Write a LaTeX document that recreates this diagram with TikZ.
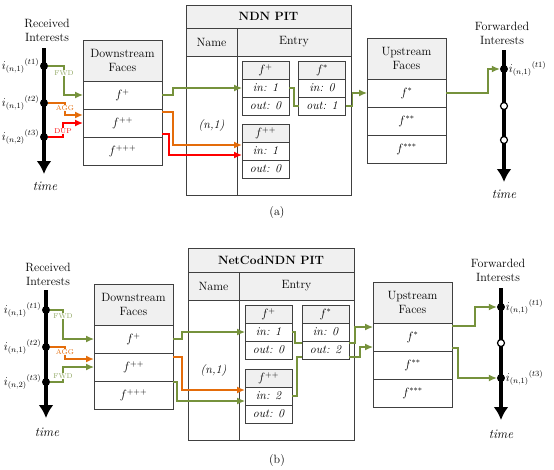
\documentclass[tikz,border=0pt]{standalone}
\usetikzlibrary{positioning,arrows.meta}
\definecolor{fwdgreen}{RGB}{118,146,60}
\definecolor{aggorange}{RGB}{228,108,10}
\definecolor{dupred}{RGB}{255,0,0}
\definecolor{hdrgray}{RGB}{240,240,240}
\definecolor{boxline}{RGB}{64,64,64}

\begin{document}
\begin{tikzpicture}[x=1pt,y=-1pt,font=\fontsize{12}{14}\selectfont,
  face/.style={draw=boxline,line width=1pt,inner sep=0pt,outer sep=0pt,minimum width=79pt,minimum height=28pt},
  hdr/.style={face,fill=hdrgray,minimum height=41pt,align=center},
  pitbox/.style={draw=boxline,line width=1pt,inner sep=0pt,outer sep=0pt},
  cell/.style={draw=boxline,line width=0.9pt,inner sep=0pt,outer sep=0pt,minimum width=47pt,minimum height=18pt,font=\fontsize{12}{13}\selectfont\itshape},
  chdr/.style={cell,fill=hdrgray},
  dot/.style={circle,fill,inner sep=0pt,minimum size=8pt},
  hdot/.style={circle,draw,fill=white,line width=1.2pt,inner sep=0pt,minimum size=7pt},
  ilbl/.style={inner sep=0.5pt,font=\fontsize{12}{14}\selectfont},
  tlbl/.style={font=\fontsize{13}{14}\selectfont\itshape},
  tline/.style={line width=4pt,-{Latex[length=13pt,width=15pt]}},
  fwd/.style={draw=fwdgreen,line width=1.2pt},
  fwdarr/.style={fwd,-{Latex[length=8pt,width=7pt]}},
  agg/.style={draw=aggorange,line width=1.6pt,-{Latex[length=8pt,width=7pt]}},
  dup/.style={draw=dupred,line width=1.4pt,-{Latex[length=8pt,width=7pt]}},
  lbl/.style={font=\fontsize{7}{7}\selectfont,fill=white,inner sep=0.5pt}]
\useasboundingbox (0,0) rectangle (554,469);

\coordinate (lta) at (44,48);
\coordinate (lba) at (44,174);
\draw[tline] (lta) -- (lba);
\node[dot, label={[ilbl]left:${i_{(n,1)}}^{(t1)}$}] (la1) at (44,66) {};
\node[dot, label={[ilbl]left:${i_{(n,1)}}^{(t2)}$}] (la2) at (44,103) {};
\node[dot, label={[ilbl]left:${i_{(n,2)}}^{(t3)}$}] (la3) at (44,137) {};
\node[align=center] (rcva) at (47,30) {Received\\Interests};
\node[tlbl] (tima) at (45,186) {time};

\node[hdr] (dha) at (122.5,60.5) {Downstream\\Faces};
\node[face, below=0pt of dha] (da1) {$f^{+}$};
\node[face, below=0pt of da1] (da2) {$f^{++}$};
\node[face, below=0pt of da2] (da3) {$f^{+++}$};

\node[pitbox,fill=hdrgray,minimum width=165pt,minimum height=23pt] (pita) at (268.5,16.5) {\bfseries NDN PIT};
\node[pitbox,fill=hdrgray,minimum width=51pt,minimum height=28pt] (namea) at (211.5,42) {Name};
\node[pitbox,fill=hdrgray,minimum width=114pt,minimum height=28pt] (entrya) at (294,42) {Entry};
\node[pitbox,minimum width=51pt,minimum height=139pt] (keya) at (211.5,125.5) {\itshape (n,1)};
\node[pitbox,minimum width=114pt,minimum height=139pt] (bodya) at (294,125.5) {};

\node[chdr] (ah1) at (265.5,70) {$f^{+}$};
\node[cell, below=0pt of ah1] (ain1) {in: 1};
\node[cell, below=0pt of ain1] (aout1) {out: 0};
\node[chdr] (ah2) at (322,70) {$f^{*}$};
\node[cell, below=0pt of ah2] (ain2) {in: 0};
\node[cell, below=0pt of ain2] (aout2) {out: 1};
\node[chdr] (ah3) at (265.5,133) {$f^{++}$};
\node[cell, below=0pt of ah3] (ain3) {in: 1};
\node[cell, below=0pt of ain3] (aout3) {out: 0};

\node[hdr] (uha) at (406.5,58.5) {Upstream\\Faces};
\node[face, below=0pt of uha] (ua1) {$f^{*}$};
\node[face, below=0pt of ua1] (ua2) {$f^{**}$};
\node[face, below=0pt of ua2] (ua3) {$f^{***}$};

\coordinate (rta) at (504,50);
\coordinate (rba) at (504,182);
\draw[tline] (rta) -- (rba);
\node[align=center] (fwda) at (502,33) {Forwarded\\Interests};
\node[tlbl] (timb) at (504,194) {time};
\node[dot, label={[ilbl]right:${i_{(n,1)}}^{(t1)}$}] (ra1) at (504,69) {};
\node[hdot] (ra2) at (504,106) {};
\node[hdot] (ra3) at (504,140) {};
\node (capa) at (277,213) {(a)};

\draw[fwdarr] (la1) -- ++(20,0) |- node[lbl,text=fwdgreen!80,pos=0.12] (fwdla) {FWD} (da1.west);
\draw[agg] (la2) -- ++(21,0) |- node[lbl,text=aggorange,pos=0.2] (aggla) {AGG} ([yshift=8pt]da2.west);
\draw[dup] (la3) -- ++(19,0) |- node[lbl,text=dupred,pos=0.2] (dupla) {DUP} (da2.west);
\draw[fwdarr] (da1.east) -- ++(11,0) |- (ain1.west);
\draw[agg] ([yshift=11pt]da2.east) -- ++(11,0) |- ([yshift=6pt]ain3.west);
\draw[dup] ([yshift=-11pt]da2.east) -- ++(7,0) |- ([yshift=-4pt]ain3.west);
\draw[fwd] (ain1.east) -- ++(5,0) |- (aout2.west);
\draw[fwdarr] (aout2.east) -- ++(7,0) |- (ua1.west);
\draw[fwdarr] (ua1.east) -- ++(42,0) |- (ra1.west);

\coordinate (ltb) at (46,290);
\coordinate (lbb) at (46,418);
\draw[tline] (ltb) -- (lbb);
\node[dot, label={[ilbl]left:${i_{(n,1)}}^{(t1)}$}] (lb1) at (46,310) {};
\node[dot, label={[ilbl]left:${i_{(n,1)}}^{(t2)}$}] (lb2) at (46,347) {};
\node[dot, label={[ilbl]left:${i_{(n,2)}}^{(t3)}$}] (lb3) at (46,382) {};
\node[align=center] (rcvb) at (48,274) {Received\\Interests};
\node[tlbl] (timc) at (47,432) {time};

\node[hdr] (dhb) at (133.5,304.5) {Downstream\\Faces};
\node[face, below=0pt of dhb] (db1) {$f^{+}$};
\node[face, below=0pt of db1] (db2) {$f^{++}$};
\node[face, below=0pt of db2] (db3) {$f^{+++}$};

\node[pitbox,fill=hdrgray,minimum width=166pt,minimum height=24pt] (pitb) at (271,260) {\bfseries NetCodNDN PIT};
\node[pitbox,fill=hdrgray,minimum width=51pt,minimum height=28pt] (nameb) at (213.5,286) {Name};
\node[pitbox,fill=hdrgray,minimum width=115pt,minimum height=28pt] (entryb) at (296.5,286) {Entry};
\node[pitbox,minimum width=51pt,minimum height=140pt] (keyb) at (213.5,370) {\itshape (n,1)};
\node[pitbox,minimum width=115pt,minimum height=140pt] (bodyb) at (296.5,370) {};

\node[chdr] (bh1) at (268.5,314) {$f^{+}$};
\node[cell, below=0pt of bh1] (bin1) {in: 1};
\node[cell, below=0pt of bin1] (bout1) {out: 0};
\node[chdr] (bh2) at (325.5,314) {$f^{*}$};
\node[cell, below=0pt of bh2] (bin2) {in: 0};
\node[cell, below=0pt of bin2] (bout2) {out: 2};
\node[chdr] (bh3) at (268.5,378) {$f^{++}$};
\node[cell, below=0pt of bh3] (bin3) {in: 2};
\node[cell, below=0pt of bin3] (bout3) {out: 0};

\node[hdr] (uhb) at (412.5,302.5) {Upstream\\Faces};
\node[face, below=0pt of uhb] (ub1) {$f^{*}$};
\node[face, below=0pt of ub1] (ub2) {$f^{**}$};
\node[face, below=0pt of ub2] (ub3) {$f^{***}$};

\coordinate (rtb) at (501,288);
\coordinate (rbb) at (501,420);
\draw[tline] (rtb) -- (rbb);
\node[align=center] (fwdb) at (498,270) {Forwarded\\Interests};
\node[tlbl] (timd) at (501,434) {time};
\node[dot, label={[ilbl]right:${i_{(n,1)}}^{(t1)}$}] (rb1) at (501,307) {};
\node[hdot] (rb2) at (501,343) {};
\node[dot, label={[ilbl]right:${i_{(n,1)}}^{(t3)}$}] (rb3) at (501,378) {};
\node (capb) at (277,460) {(b)};

\draw[fwdarr] (lb1) -- ++(17,0) |- node[lbl,text=fwdgreen!80,pos=0.1] (fwdlb) {FWD} (db1.west);
\draw[agg] (lb2) -- ++(19,0) |- node[lbl,text=aggorange,pos=0.2] (agglb) {AGG} ([yshift=8pt]db2.west);
\draw[fwdarr] (lb3) -- ++(17,0) |- node[lbl,text=fwdgreen!80,pos=0.2] (fwdlc) {FWD} (db2.west);
\draw[fwdarr] (db1.east) -- ++(9,0) |- (bin1.west);
\draw[agg] ([yshift=10pt]db2.east) -- ++(9,0) |- ([yshift=6pt]bin3.west);
\draw[fwdarr] ([yshift=13pt]db3.east) -- ++(4,0) |- ([yshift=-5pt]bin3.west);
\draw[fwd] (bin1.east) -- ++(3,0) |- ([yshift=7pt]bout2.west);
\draw[fwd] (bin3.east) -- ++(5,0) |- ([yshift=-7pt]bout2.west);
\draw[fwdarr] ([yshift=7pt]bout2.east) -- ++(6,0) |- ([yshift=10pt]ub1.west);
\draw[fwdarr] ([yshift=-7pt]bout2.east) -- ++(11,0) |- ([yshift=-10pt]ub1.west);
\draw[fwdarr] ([yshift=11pt]ub1.east) -- ++(23,0) |- (rb1.west);
\draw[fwdarr] ([yshift=-11pt]ub1.east) -- ++(6,0) |- (rb3.west);
\end{tikzpicture}
\end{document}
